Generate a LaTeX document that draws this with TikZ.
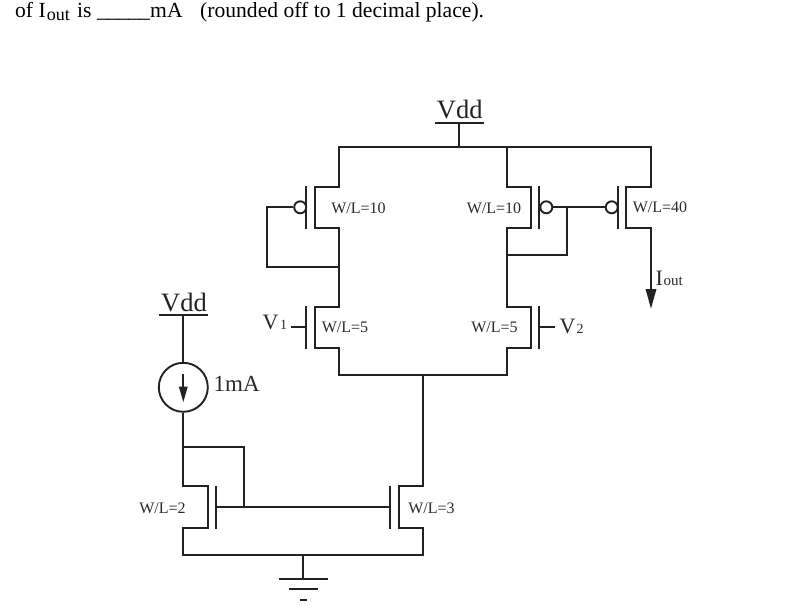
\documentclass[tikz,border=0pt]{standalone}
\usepackage{fontspec}
\setmainfont{Liberation Serif}
\usetikzlibrary{arrows.meta}
\definecolor{ink}{HTML}{222222}
\definecolor{labelink}{HTML}{2A2A2A}
\tikzset{
  wire/.style={draw=ink,line width=1.9pt,line cap=butt,line join=miter},
  bubble/.style={circle,draw=ink,line width=1.9pt,minimum size=12pt,inner sep=0pt,fill=white},
  source/.style={circle,draw=ink,line width=1.9pt,minimum size=49pt,inner sep=0pt},
  wl/.style={font=\fontsize{16}{16}\selectfont,text=labelink,inner sep=0pt,anchor=base},
  big/.style={font=\fontsize{22}{22}\selectfont,text=labelink,inner sep=0pt,anchor=base west},
  vddlabel/.style={font=\fontsize{26.5}{26.5}\selectfont,text=ink,inner sep=0pt,anchor=base},
  headline/.style={font=\fontsize{21.6}{21.6}\selectfont,text=black,inner sep=0pt,anchor=base west}
}
\newcommand{\sbs}[1]{{\fontsize{14}{14}\selectfont #1}}
\begin{document}
\begin{tikzpicture}[x=1pt,y=-1pt]
\useasboundingbox[fill=white] (0,0) rectangle (812,616);

% headline
\node[headline] (headA) at (15,17) {of I\kern1pt\raisebox{-3pt}{\fontsize{18}{18}\selectfont out}\kern2pt\ is};
\node[headline] (headB) at (97,17) {\_\kern-0.3pt\_\kern-0.3pt\_\kern-0.3pt\_\kern-0.3pt\_};
\node[headline] (headC) at (150,17) {mA};
\node[headline] (headD) at (200,17) {(rounded off to 1 decimal place).};

% named points
\coordinate (vddT) at (459.3,123.3);
\coordinate (railT) at (459.3,147.3);
\coordinate (vddL) at (183.3,315);
\coordinate (tail) at (423.3,375.3);
\coordinate (gndTap) at (303.3,555.3);
\coordinate (gndBar) at (303.3,579);

% top supply
\draw[wire] (435,123.3) -- (483.6,123.3);
\draw[wire] (vddT) -- (railT);
\node[vddlabel] (vddTlabel) at (459.7,118) {Vdd};

% left branch
\draw[wire] (507.3,147.3) -- (339.3,147.3) -- (339.3,186.7) -- (315,186.7) -- (315,227.7) -- (339.3,227.7) -- (339.3,306.7) -- (315,306.7) -- (315,348) -- (339.3,348) -- (339.3,375.3) -- (tail);
\draw[wire] (306.3,186) -- (306.3,229);
\draw[wire] (306.3,306) -- (306.3,349);
\draw[wire] (290.7,327.3) -- (306.3,327.3);
\node[bubble] (pL) at (300.2,207.3) {};
\draw[wire] (pL.west) -- (267.3,207.3) -- (267.3,267.3) -- (339.3,267.3);
\node[wl] (wlA) at (358.5,213) {W/L=10};
\node[wl] (wlB) at (345,332.5) {W/L=5};
\node[big] (v1) at (262.5,329) {V\hspace{1.5pt}\sbs{1}};

% right branch
\draw[wire] (railT) -- (651,147.3) -- (651,186.7) -- (626.3,186.7) -- (626.3,227.7) -- (651,227.7) -- (651,292);
\draw[wire] (507.3,147.3) -- (507.3,186.7) -- (531,186.7) -- (531,227.7) -- (507.3,227.7) -- (507.3,306.7) -- (531,306.7) -- (531,348) -- (507.3,348) -- (507.3,375.3) -- (tail);
\draw[wire] (539.3,186) -- (539.3,229);
\draw[wire] (618,186) -- (618,229);
\draw[wire] (539.3,306) -- (539.3,349);
\draw[wire] (539.3,327.3) -- (555,327.3);
\draw[wire] (546.3,207.3) -- (611.7,207.3);
\node[bubble] (pM) at (546.3,207.3) {};
\node[bubble] (pR) at (611.7,207.3) {};
\draw[wire] (567,207.3) -- (567,255) -- (507.3,255);
\node[wl] (wlC) at (494,213) {W/L=10};
\node[wl] (wlD) at (660,212.5) {W/L=40};
\node[wl] (wlE) at (494.5,332.5) {W/L=5};
\node[big] (v2) at (559.5,333) {V\hspace{1pt}\sbs{2}};
\fill[ink] (645.5,289) -- (656.5,289) -- (651,308.5) -- cycle;
\node[big] (iout) at (655.5,285) {I\kern0.5pt\fontsize{15}{15}\selectfont out};

% current reference
\draw[wire] (159,315) -- (208.4,315);
\node[vddlabel] (vddLlabel) at (184,311) {Vdd};
\node[source] (src) at (183.3,387.3) {};
\draw[wire] (vddL) -- (src);
\draw[wire] (183.3,374) -- (183.3,388);
\fill[ink] (178.8,386.5) -- (187.8,386.5) -- (183.3,402) -- cycle;
\node[font=\fontsize{23}{23}\selectfont,text=labelink,inner sep=0pt,anchor=base west] (one) at (213.5,391.5) {1mA};

% current mirror
\draw[wire] (src) -- (183.3,486) -- (208,486) -- (208,528.3) -- (183.3,528.3) -- (183.3,555.3) -- (423.3,555.3) -- (423.3,528.3) -- (399,528.3) -- (399,486) -- (423.3,486) -- (tail);
\draw[wire] (183.3,447.3) -- (243.7,447.3) -- (243.7,507.3);
\draw[wire] (216.3,485.7) -- (216.3,529);
\draw[wire] (390.3,485.7) -- (390.3,529);
\draw[wire] (216.3,507.3) -- (390.3,507.3);
\node[wl] (wlF) at (162.5,513) {W/L=2};
\node[wl] (wlG) at (431.5,513) {W/L=3};

% ground
\draw[wire] (gndTap) -- (gndBar);
\draw[wire] (279,579) -- (328,579);
\draw[wire] (289.3,589.3) -- (317.7,589.3);
\draw[wire] (300,600) -- (307.3,600);
\end{tikzpicture}
\end{document}
